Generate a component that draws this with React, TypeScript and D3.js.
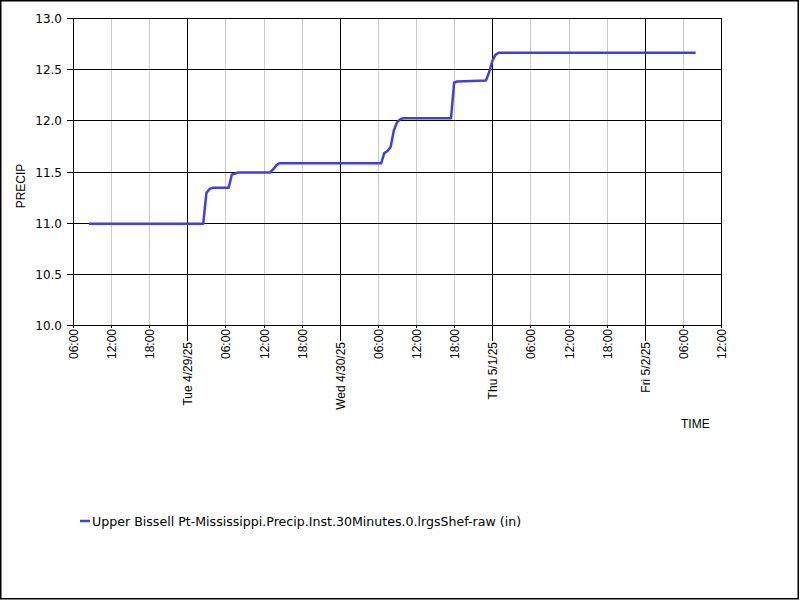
import React from "react";
import * as d3 from "d3";

const times: string[] = [
  "2025-04-28T08:30", "2025-04-29T02:30", "2025-04-29T03:00", "2025-04-29T03:30", "2025-04-29T04:00",
  "2025-04-29T06:30", "2025-04-29T07:00", "2025-04-29T08:00", "2025-04-29T13:00", "2025-04-29T13:30",
  "2025-04-29T14:00", "2025-04-29T14:30", "2025-04-30T06:30", "2025-04-30T07:00", "2025-04-30T07:30",
  "2025-04-30T08:00", "2025-04-30T08:30", "2025-04-30T09:00", "2025-04-30T09:30", "2025-04-30T10:00",
  "2025-04-30T17:30", "2025-04-30T18:00", "2025-04-30T18:30", "2025-04-30T23:00", "2025-04-30T23:30",
  "2025-05-01T00:00", "2025-05-01T00:30", "2025-05-01T01:00", "2025-05-02T08:00",
];
const values: number[] = [
  10.99, 10.99, 11.29, 11.33, 11.34,
  11.34, 11.47, 11.49, 11.49, 11.52,
  11.56, 11.58, 11.58, 11.68, 11.7,
  11.74, 11.9, 11.98, 12.01, 12.02,
  12.02, 12.37, 12.38, 12.39, 12.47,
  12.58, 12.64, 12.66, 12.66,
];
const yTicks: number[] = [10.0, 10.5, 11.0, 11.5, 12.0, 12.5, 13.0];
const seriesName = "Upper Bissell Pt-Mississippi.Precip.Inst.30Minutes.0.lrgsShef-raw (in)";
const xStart = "2025-04-28T06:00";
const xEnd = "2025-05-02T12:00";

const parse = d3.timeParse("%Y-%m-%dT%H:%M");

export default function App() {
  const left = 73, right = 721, top = 18, bottom = 325;
  const x = d3.scaleTime().domain([parse(xStart)!, parse(xEnd)!]).range([left, right]);
  const y = d3.scaleLinear().domain([10, 13]).range([bottom, top]);
  const ticks = d3.timeHour.every(6)!.range(parse(xStart)!, d3.timeMinute.offset(parse(xEnd)!, 1));
  const fmtDay = d3.timeFormat("%a %-m/%-d/%y");
  const fmtHour = d3.timeFormat("%H:%M");
  const data = times.map((t, i) => ({ t: parse(t)!, v: values[i] }));
  const line = d3.line<{ t: Date; v: number }>().x(d => x(d.t)).y(d => y(d.v));
  const blue = "#4040e0";
  const axisFont = "'Liberation Sans', Arial, sans-serif";
  const tickFont = "'DejaVu Sans', sans-serif";

  return (
    <svg width={800} height={600} style={{ position: "absolute", left: 0, top: 0, background: "#fff" }}>
      <rect x={0.75} y={0.75} width={797.5} height={598} fill="#fff" stroke="#000" strokeWidth={1.5} />
      {ticks.map((t, i) => {
        const isDay = t.getHours() === 0;
        const xx = Math.round(x(t)) + 0.5;
        const tl = isDay ? 16 : 3;
        return (
          <g key={"x" + i}>
            <line x1={xx} x2={xx} y1={top} y2={bottom} stroke={isDay ? "#000" : "#c8c8c8"} strokeWidth={1} />
            <line x1={xx} x2={xx} y1={bottom} y2={bottom + tl} stroke="#000" />
            <text
              transform={`translate(${xx + 4},${bottom + tl + 1}) rotate(-90)`}
              textAnchor="end"
              fontFamily={axisFont}
              fontSize={12}
              fill="#000"
            >
              {isDay ? fmtDay(t) : fmtHour(t)}
            </text>
          </g>
        );
      })}
      {yTicks.map((v, i) => {
        const yy = Math.round(y(v)) + 0.5;
        return (
          <g key={"y" + i}>
            <line x1={left} x2={right} y1={yy} y2={yy} stroke="#000" />
            <line x1={left - 6} x2={left} y1={yy} y2={yy} stroke="#000" />
            <text x={62} y={yy + 4.5} textAnchor="end" fontFamily={tickFont} fontSize={12} fill="#000">
              {v.toFixed(1)}
            </text>
          </g>
        );
      })}
      <rect x={left + 0.5} y={top + 0.5} width={right - left} height={bottom - top} fill="none" stroke="#000" />
      <path d={line(data) ?? ""} fill="none" stroke={blue} strokeWidth={2.5} strokeLinejoin="round" />
      <text transform="translate(25,186) rotate(-90)" textAnchor="middle" fontFamily={axisFont} fontSize={12} fill="#000">
        PRECIP
      </text>
      <text x={681} y={428} fontFamily={axisFont} fontSize={12} fill="#000">TIME</text>
      <line x1={80} x2={90} y1={521} y2={521} stroke={blue} strokeWidth={2.5} />
      <text x={92} y={526} fontFamily={tickFont} fontSize={12.6} fill="#000">{seriesName}</text>
    </svg>
  );
}
